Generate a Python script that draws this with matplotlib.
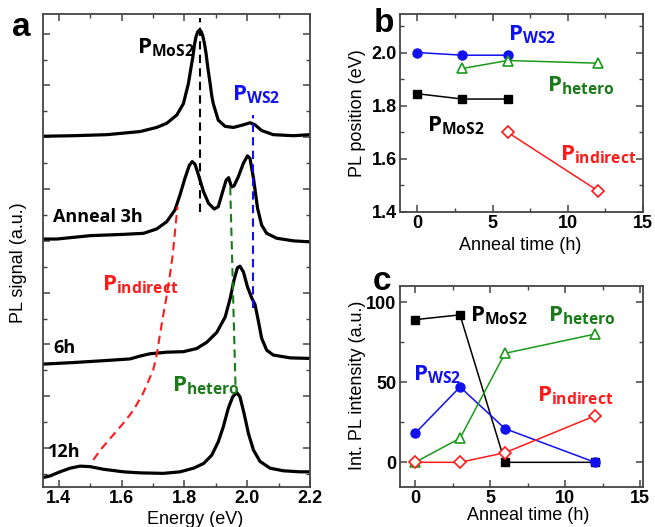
import matplotlib
matplotlib.use('Agg')
import matplotlib.pyplot as plt
from matplotlib.ticker import MultipleLocator, FormatStrFormatter

plt.rcParams['font.family'] = ['Liberation Sans', 'DejaVu Sans']
plt.rcParams['font.weight'] = 'bold'  # tick labels are bold; axis titles reset to normal
plt.rcParams['mathtext.fontset'] = 'custom'
plt.rcParams['mathtext.bf'] = 'Open Sans:bold'
plt.rcParams['mathtext.rm'] = 'Open Sans'

# PL spectra: energy (eV) and signal above each trace's own baseline
e_0h = [1.35, 1.447, 1.553, 1.659, 1.712, 1.744, 1.776, 1.797, 1.813, 1.820, 1.827, 1.832,
        1.837, 1.843, 1.848, 1.853, 1.858, 1.864, 1.869, 1.875, 1.882, 1.887, 1.892, 1.900,
        1.908, 1.930, 1.956, 1.988, 2.009, 2.025, 2.046, 2.083, 2.147, 2.20]
pl_0h = [0.02, 0.03, 0.05, 0.11, 0.19, 0.27, 0.43, 0.65, 1.04, 1.30, 1.55, 1.78,
         1.94, 2.04, 2.07, 2.05, 1.97, 1.81, 1.62, 1.33, 1.04, 0.81, 0.65, 0.49,
         0.33, 0.21, 0.19, 0.24, 0.28, 0.24, 0.13, 0.05, 0.03, 0.05]

e_3h = [1.35, 1.394, 1.500, 1.606, 1.670, 1.712, 1.744, 1.770, 1.786, 1.802, 1.816, 1.825,
        1.834, 1.845, 1.861, 1.877, 1.895, 1.908, 1.922, 1.933, 1.941, 1.950, 1.958, 1.972,
        1.988, 2.001, 2.009, 2.020, 2.033, 2.046, 2.062, 2.094, 2.147, 2.20]
pl_3h = [0.035, 0.035, 0.10, 0.125, 0.145, 0.23, 0.37, 0.595, 0.885, 1.21, 1.46, 1.53,
         1.48, 1.27, 0.95, 0.725, 0.615, 0.66, 0.95, 1.17, 1.22, 1.04, 1.06, 1.24,
         1.50, 1.64, 1.59, 1.21, 0.63, 0.305, 0.145, 0.05, 0.0, -0.02]

e_6h = [1.35, 1.447, 1.553, 1.627, 1.659, 1.691, 1.744, 1.797, 1.839, 1.871, 1.903, 1.930,
        1.946, 1.958, 1.969, 1.977, 1.988, 2.001, 2.015, 2.025, 2.036, 2.046, 2.062, 2.083,
        2.137, 2.20]
pl_6h = [-0.08, -0.05, -0.01, 0.02, 0.075, 0.12, 0.15, 0.16, 0.22, 0.34, 0.53, 0.83,
         1.19, 1.54, 1.78, 1.81, 1.70, 1.41, 1.19, 1.07, 0.74, 0.42, 0.19, 0.095,
         0.04, 0.03]

e_12h = [1.35, 1.372, 1.404, 1.436, 1.468, 1.500, 1.542, 1.606, 1.659, 1.733, 1.786, 1.829,
         1.861, 1.887, 1.908, 1.924, 1.940, 1.954, 1.967, 1.977, 1.990, 2.004, 2.020, 2.041,
         2.073, 2.115, 2.168, 2.20]
pl_12h = [-0.12, -0.09, -0.01, 0.06, 0.10, 0.09, 0.04, -0.01, -0.03, -0.04, -0.01, 0.06,
          0.15, 0.31, 0.57, 0.86, 1.22, 1.44, 1.52, 1.44, 1.12, 0.73, 0.41, 0.19,
          0.06, 0.01, -0.01, -0.01]

offsets = [6.0, 4.0, 1.7, -0.45]

# guide lines following the peaks through the anneal series
e_mos2_guide = [1.85, 1.85]
y_mos2_guide = [4.55, 8.30]
e_ws2_guide = [2.02, 2.02]
y_ws2_guide = [2.70, 6.43]
e_het_guide = [1.946, 1.963]
y_het_guide = [5.04, 1.16]
e_ind_guide = [1.510, 1.537, 1.569, 1.606, 1.638, 1.669, 1.696, 1.701, 1.712, 1.722,
               1.733, 1.744, 1.754, 1.763, 1.778]
y_ind_guide = [-0.23, -0.006, 0.22, 0.48, 0.73, 1.06, 1.44, 1.51, 1.80, 2.18,
               2.57, 2.95, 3.34, 3.73, 4.66]

# peak positions (eV) vs anneal time (h)
t_mos2 = [0, 3, 6]
pos_mos2 = [1.845, 1.825, 1.825]
t_ws2 = [0, 3, 6]
pos_ws2 = [2.00, 1.99, 1.99]
t_het = [3, 6, 12]
pos_het = [1.94, 1.97, 1.96]
t_ind = [6, 12]
pos_ind = [1.70, 1.48]

# integrated intensities (a.u.)
times = [0, 3, 6, 12]
int_mos2 = [89, 92, 0, 0]
int_ws2 = [18, 47, 21, 0]
int_het = [0, 15, 68, 80]
int_ind = [0, 0, 6, 29]

BLUE = '#1010f0'
GREEN = '#1a9a1a'
GREEN_TXT = '#1a7a1a'
RED = '#ff1a1a'
FRAME = '#444444'


def style_axes(ax):
    for sp in ax.spines.values():
        sp.set_color(FRAME)
        sp.set_linewidth(1.3)
    ax.tick_params(which='both', direction='in', top=True, right=True, color=FRAME)
    ax.tick_params(which='major', length=5, width=1.1, labelsize=13, pad=2.5)
    ax.tick_params(which='minor', length=3, width=1.0)


def plabel(ax, x, y, sub, color, size=16):
    ax.text(x, y, r'$\mathbf{P}_{\mathbf{%s}}$' % sub, color=color, fontsize=size,
            ha='left', va='baseline')


fig = plt.figure(figsize=(6.55, 5.27), dpi=100)

# ---- a: spectra ----
ax = fig.add_axes([43 / 655, 40 / 527, 267 / 655, 473 / 527])
for e, pl, off in zip([e_0h, e_3h, e_6h, e_12h], [pl_0h, pl_3h, pl_6h, pl_12h], offsets):
    ax.plot(e, [p + off for p in pl], color='black', lw=2.3, solid_joinstyle='round')
ax.plot(e_mos2_guide, y_mos2_guide, color='black', lw=1.5, dashes=(4, 2.5))
ax.plot(e_ws2_guide, y_ws2_guide, color=BLUE, lw=1.5, dashes=(4, 2.5))
ax.plot(e_het_guide, y_het_guide, color='#1a7a1a', lw=1.5, dashes=(4, 2.5))
ax.plot(e_ind_guide, y_ind_guide, color=RED, lw=1.5, dashes=(4, 2.5))
ax.set_xlim(1.35, 2.2)
ax.set_ylim(-0.753, 8.38)
ax.xaxis.set_major_locator(MultipleLocator(0.2))
ax.xaxis.set_minor_locator(MultipleLocator(0.1))
ax.xaxis.set_major_formatter(FormatStrFormatter('%.1f'))
ax.yaxis.set_major_locator(MultipleLocator(1))
ax.yaxis.set_minor_locator(MultipleLocator(0.5))
ax.set_yticklabels([])
style_axes(ax)

plabel(ax, 1.648, 7.62, 'MoS2', 'black')
plabel(ax, 1.951, 6.72, 'WS2', BLUE)
plabel(ax, 1.537, 3.05, 'indirect', RED)
plabel(ax, 1.760, 1.09, 'hetero', GREEN_TXT)
for txt, x, y in [('Anneal 3h', 1.383, 4.36), ('6h', 1.383, 1.83), ('12h', 1.367, -0.17)]:
    ax.text(x, y, txt, fontsize=13, fontweight='bold', family='Open Sans',
            ha='left', va='baseline')

# ---- b: peak positions ----
bx = fig.add_axes([400 / 655, 315 / 527, 243 / 655, 198 / 527])
bx.plot(t_mos2, pos_mos2, color='black', lw=1.1, marker='s', ms=5.5)
bx.plot(t_ws2, pos_ws2, color=BLUE, lw=1.1, marker='o', ms=6.5)
bx.plot(t_het, pos_het, color=GREEN, lw=1.1, marker='^', ms=7.5, mfc='white', mew=1.2)
bx.plot(t_ind, pos_ind, color=RED, lw=1.1, marker='D', ms=6.5, mfc='white', mew=1.2)
bx.set_xlim(-1.15, 15)
bx.set_ylim(1.4, 2.145)
bx.xaxis.set_major_locator(MultipleLocator(5))
bx.xaxis.set_minor_locator(MultipleLocator(2.5))
bx.yaxis.set_major_locator(MultipleLocator(0.2))
bx.yaxis.set_minor_locator(MultipleLocator(0.1))
bx.yaxis.set_major_formatter(FormatStrFormatter('%.1f'))
style_axes(bx)
plabel(bx, 6.05, 2.046, 'WS2', BLUE)
plabel(bx, 8.63, 1.852, 'hetero', GREEN_TXT)
plabel(bx, 0.63, 1.702, 'MoS2', 'black')
plabel(bx, 9.51, 1.596, 'indirect', RED)

# ---- c: integrated intensities ----
cx = fig.add_axes([400 / 655, 40 / 527, 243 / 655, 201 / 527])
cx.plot(times, int_mos2, color='black', lw=1.1, marker='s', ms=5.5)
cx.plot(times, int_ws2, color=BLUE, lw=1.1, marker='o', ms=6.5)
cx.plot(times, int_het, color=GREEN, lw=1.1, marker='^', ms=7.5, mfc='white', mew=1.2)
cx.plot(times, int_ind, color=RED, lw=1.1, marker='D', ms=6.5, mfc='white', mew=1.2)
cx.set_xlim(-1.0, 15.2)
cx.set_ylim(-15.4, 110)
cx.xaxis.set_major_locator(MultipleLocator(5))
cx.xaxis.set_minor_locator(MultipleLocator(2.5))
cx.yaxis.set_major_locator(MultipleLocator(50))
cx.yaxis.set_minor_locator(MultipleLocator(25))
style_axes(cx)
plabel(cx, 3.67, 87.9, 'MoS2', 'black')
plabel(cx, 8.89, 87.9, 'hetero', GREEN_TXT)
plabel(cx, -0.11, 51.3, 'WS2', BLUE)
plabel(cx, 8.11, 37.8, 'indirect', RED)

# axis titles and panel letters
title_kw = dict(fontsize=13, fontweight='normal', ha='center', va='center')
fig.text(195 / 655, 1 - 520 / 527, 'Energy (eV)', **title_kw)
fig.text(19 / 655, 1 - 263 / 527, 'PL signal (a.u.)', rotation=90, **title_kw)
fig.text(520 / 655, 1 - 246 / 527, 'Anneal time (h)', **title_kw)
fig.text(528 / 655, 1 - 515 / 527, 'Anneal time (h)', **title_kw)
fig.text(358 / 655, 1 - 113 / 527, 'PL position (eV)', rotation=90, **title_kw)
fig.text(358 / 655, 1 - 385 / 527, 'Int. PL intensity (a.u.)', rotation=90, **title_kw)
fig.text(21 / 655, 1 - 27 / 527, 'a', fontsize=24, fontweight='bold', ha='center', va='center')
fig.text(384 / 655, 1 - 24 / 527, 'b', fontsize=24, fontweight='bold', ha='center', va='center')
fig.text(382 / 655, 1 - 282 / 527, 'c', fontsize=24, fontweight='bold', ha='center', va='center')

fig.savefig('out.png', dpi=100)
